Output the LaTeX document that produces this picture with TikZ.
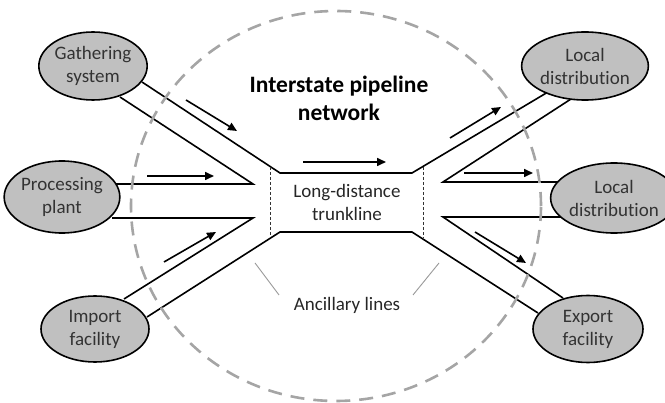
\documentclass[tikz,border=0pt]{standalone}
\usepackage{fontspec}
\setmainfont[Ligatures={NoCommon,NoRare},Contextuals=NoAlternate]{Carlito}
\usetikzlibrary{shapes.geometric,arrows.meta}
\definecolor{ellfill}{RGB}{192,192,192}
\definecolor{circgray}{RGB}{165,165,165}
\newcommand{\distrib}{distribut\kern0pt ion}
\tikzset{
  endpt/.style={ellipse,draw=black,line width=1.6pt,fill=ellfill,inner sep=0pt,
    minimum width=106pt,minimum height=68pt,align=center,font=\fontsize{19}{23}\selectfont,text=black!80},
  pipe/.style={line width=1.6pt,black},
  flow/.style={line width=1.6pt,-{Triangle[length=9pt,width=8pt]}},
  ancil/.style={line width=0.6pt,dashed,dash pattern=on 3pt off 2pt,black!80},
  pointer/.style={line width=0.9pt,black!40},
  lbl/.style={font=\fontsize{19}{23}\selectfont,text=black!85,inner sep=0pt}
}
\begin{document}
\begin{tikzpicture}[x=1pt,y=-1pt]
\useasboundingbox (0,0) rectangle (665,403);

% junction coordinates
\coordinate (tTL) at (280,173);
\coordinate (tTR) at (412,173);
\coordinate (tBL) at (280,232);
\coordinate (tBR) at (412,232);
\coordinate (aL1) at (253,184);
\coordinate (aL2) at (253,218);
\coordinate (aR1) at (443,182);
\coordinate (aR2) at (443,217);

% pipes
\draw[pipe] (142,82) -- (tTL) -- (tTR) -- (548,92);
\draw[pipe] (120,97) -- (aL1) -- (112,184);
\draw[pipe] (112,218) -- (aL2) -- (124,299);
\draw[pipe] (147,317) -- (tBL) -- (tBR) -- (538,313);
\draw[pipe] (571,99) -- (aR1) -- (567,182);
\draw[pipe] (570,217) -- (aR2) -- (563,298);

% dashed circle
\draw[circgray,line width=2.6pt,dash pattern=on 14pt off 9pt] (336,206) ellipse (205pt and 195pt);

% ancillary boundaries
\coordinate (dL1) at (270,167); \coordinate (dL2) at (270,236);
\coordinate (dR1) at (423,167); \coordinate (dR2) at (423,238);
\draw[ancil] (dL1) -- (dL2);
\draw[ancil] (dR1) -- (dR2);

% end nodes
\node[endpt] (gather) at (93,66) {Gathering\\system};
\node[endpt,minimum width=108pt,minimum height=72pt] (proc) at (62,197) {Processing\\plant};
\node[endpt,minimum width=108pt,minimum height=66pt] (import) at (95,329) {Import\\facility};
\node[endpt] (ld1) at (585,66) {Local\\\distrib};
\node[endpt,minimum width=104pt,minimum height=70pt] (ld2) at (614,198) {Local\\\distrib};
\node[endpt,minimum width=110pt,minimum height=67pt] (export) at (588,329) {Export\\facility};

% flow arrows
\coordinate (f1a) at (186,100); \coordinate (f1b) at (237,131);
\coordinate (f2a) at (147,176); \coordinate (f2b) at (214,176);
\coordinate (f3a) at (164,262); \coordinate (f3b) at (216,232);
\coordinate (f4a) at (303,162); \coordinate (f4b) at (386,162);
\coordinate (f5a) at (450,138); \coordinate (f5b) at (501,107);
\coordinate (f6a) at (464,173); \coordinate (f6b) at (533,173);
\coordinate (f7a) at (475,232); \coordinate (f7b) at (526,263);
\draw[flow] (f1a) -- (f1b);
\draw[flow] (f2a) -- (f2b);
\draw[flow] (f3a) -- (f3b);
\draw[flow] (f4a) -- (f4b);
\draw[flow] (f5a) -- (f5b);
\draw[flow] (f6a) -- (f6b);
\draw[flow] (f7a) -- (f7b);

% texts
\node[font=\bfseries\fontsize{23.5}{28}\selectfont,align=center,inner sep=0pt] (title) at (339,98) {Interstate pipeline\\network};
\node[lbl,align=center] (trunk) at (347,202) {Long-distance\\trunkline};
\node[lbl] (ancl) at (347,305) {Ancillary lines};

% pointers
\coordinate (p1a) at (255,263); \coordinate (p1b) at (279,295);
\coordinate (p2a) at (439,263); \coordinate (p2b) at (413,295);
\draw[pointer] (p1a) -- (p1b);
\draw[pointer] (p2a) -- (p2b);
\end{tikzpicture}
\end{document}
